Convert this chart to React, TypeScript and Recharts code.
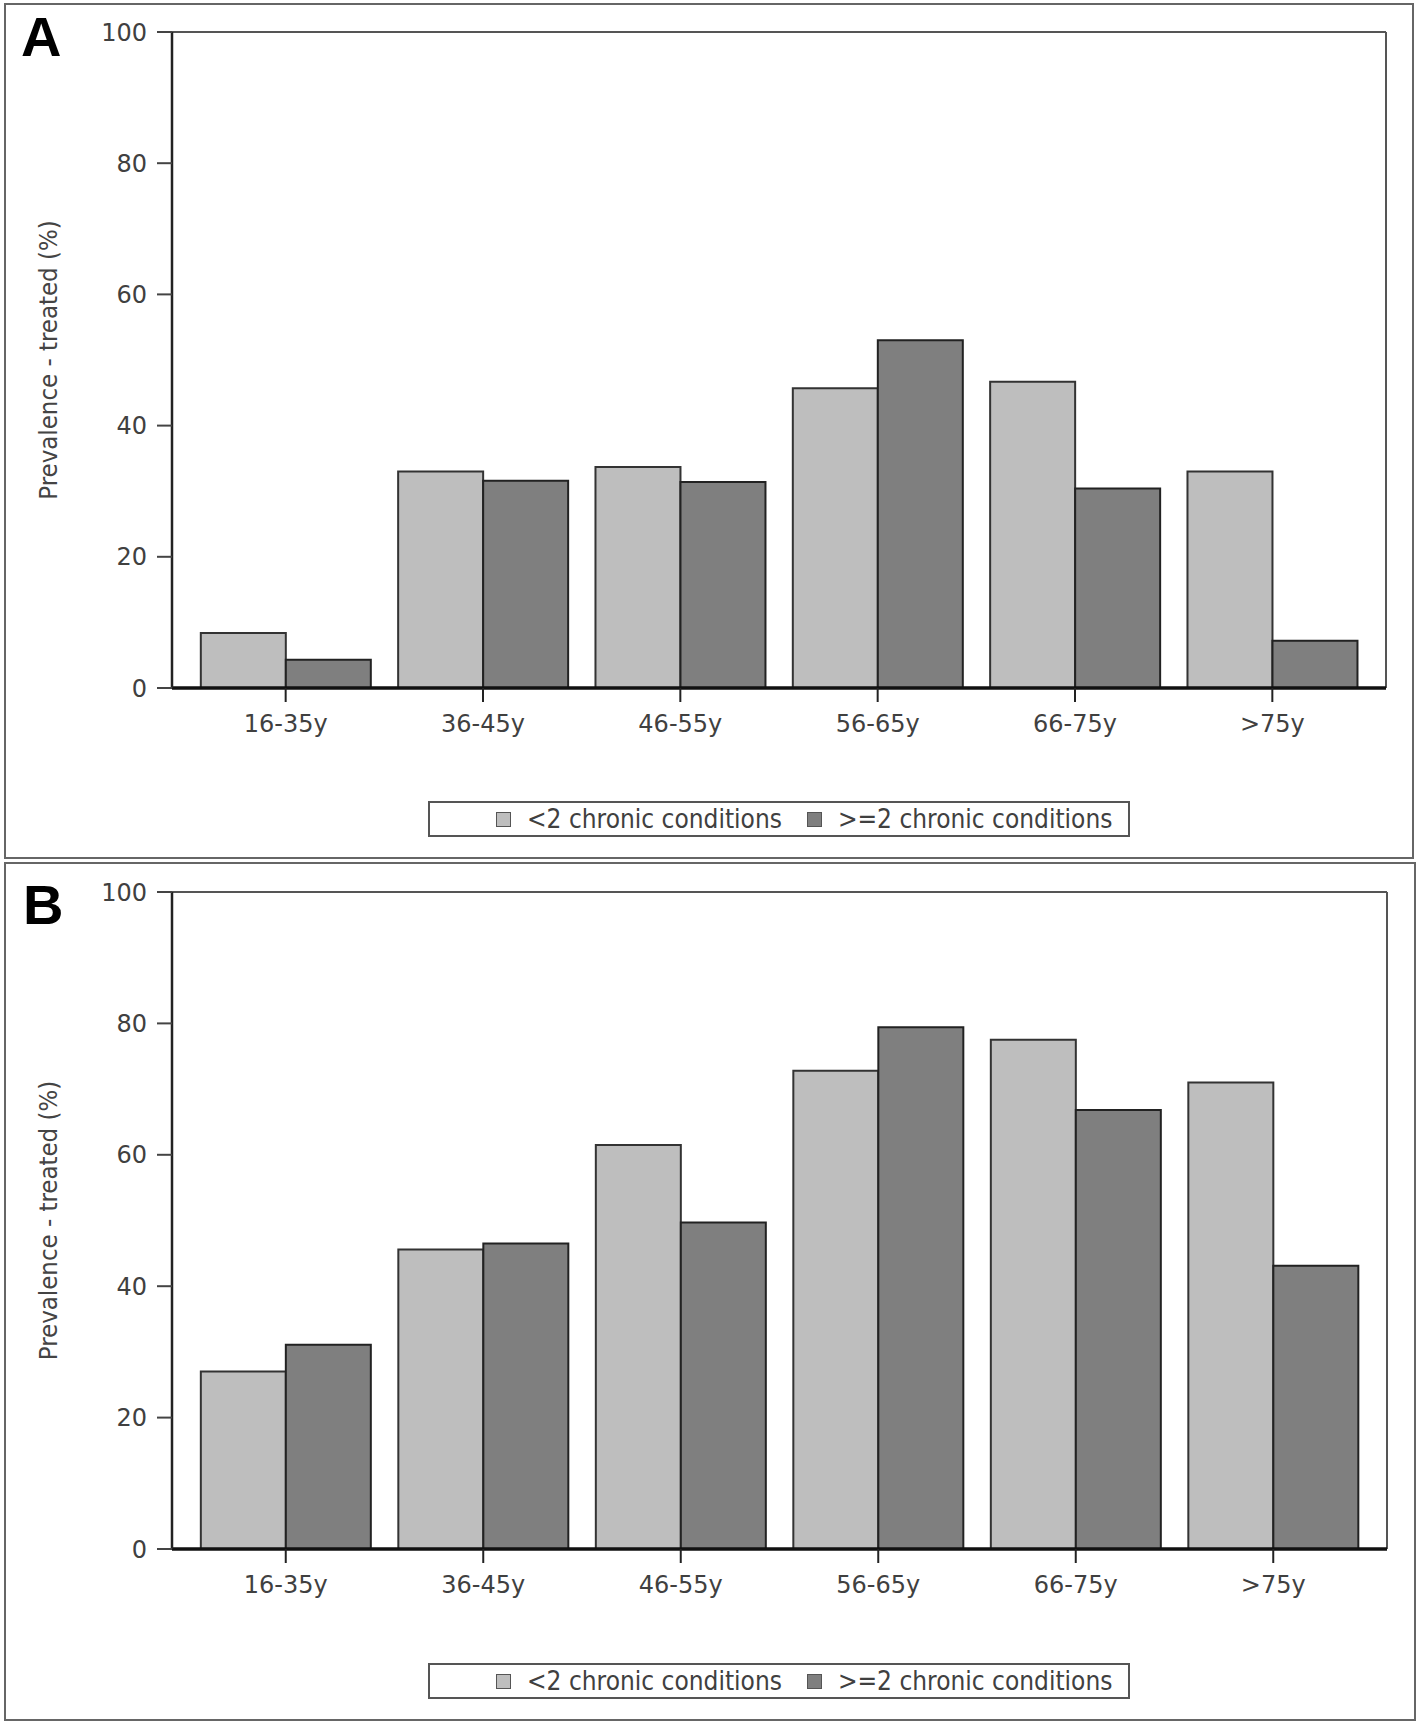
import { Bar, BarChart, XAxis, YAxis, Legend, CartesianGrid } from "recharts"

const ageGroups = ["16-35y", "36-45y", "46-55y", "56-65y", "66-75y", ">75y"]
const panelALow = [8.4, 33.0, 33.7, 45.7, 46.7, 33.0]
const panelAHigh = [4.3, 31.6, 31.4, 53.0, 30.4, 7.2]
const panelBLow = [27.0, 45.6, 61.5, 72.8, 77.5, 71.0]
const panelBHigh = [31.1, 46.5, 49.7, 79.4, 66.8, 43.1]
const yTicks = [0, 20, 40, 60, 80, 100]
const seriesNames = ["<2 chronic conditions", ">=2 chronic conditions"]
const yLabel = "Prevalence - treated (%)"

const LIGHT = "#bebebe"
const DARK = "#7f7f7f"
const tickStyle = { fontFamily: "DejaVu Sans", fontSize: 24, fill: "#404040" }

function LegendContent(props: any) {
  const items = props.payload || []
  return (
    <div
      style={{
        boxSizing: "border-box",
        width: 702,
        height: 36,
        border: "2px solid #555",
        display: "flex",
        alignItems: "center",
        paddingLeft: 66,
        fontFamily: "DejaVu Sans Condensed",
        fontSize: 26,
        color: "#404040",
        background: "#fff",
        whiteSpace: "nowrap",
      }}
    >
      {items.map((it: any, i: number) => (
        <div key={i} style={{ display: "flex", alignItems: "center", marginRight: 25 }}>
          <span
            style={{
              display: "inline-block",
              width: 13,
              height: 13,
              background: it.color,
              border: "1.5px solid #555",
              marginRight: 16,
            }}
          />
          <span>{it.value}</span>
        </div>
      ))}
    </div>
  )
}

function Panel({ low, high, height, bottom, legendTop, right }: any) {
  const data = ageGroups.map((g, i) => ({ group: g, low: low[i], high: high[i] }))
  return (
    <BarChart
      width={1418}
      height={height}
      data={data}
      margin={{ top: 32, right: right, left: 112, bottom: bottom }}
      barCategoryGap="7%"
      barGap={0}
    >
      <CartesianGrid
        stroke="#555"
        strokeWidth={2}
        strokeDasharray=""
        horizontalCoordinatesGenerator={({ offset }: any) => [offset.top]}
        verticalCoordinatesGenerator={({ offset }: any) => [offset.left + offset.width]}
      />
      <XAxis
        dataKey="group"
        padding={{ left: 15, right: 15 }}
        height={60}
        tick={tickStyle}
        tickSize={14}
        tickMargin={13}
        axisLine={{ stroke: "#111", strokeWidth: 3.5 }}
        tickLine={{ stroke: "#222", strokeWidth: 2 }}
        interval={0}
      />
      <YAxis
        domain={[0, 100]}
        ticks={yTicks}
        width={60}
        tick={tickStyle}
        tickSize={15}
        tickMargin={10}
        axisLine={{ stroke: "#222", strokeWidth: 2.5 }}
        tickLine={{ stroke: "#444", strokeWidth: 2 }}
        label={{
          value: yLabel,
          angle: -90,
          position: "insideLeft",
          offset: -64,
          style: { textAnchor: "middle", fontFamily: "DejaVu Sans Condensed", fontSize: 25.5, fill: "#444" },
        }}
      />
      <Legend
        layout="horizontal"
        verticalAlign="middle"
        align="center"
        content={LegendContent}
        wrapperStyle={{ left: 428, top: legendTop, width: 702, height: 36 }}
      />
      <Bar dataKey="low" name={seriesNames[0]} fill={LIGHT} stroke="#333" strokeWidth={2} isAnimationActive={false} />
      <Bar dataKey="high" name={seriesNames[1]} fill={DARK} stroke="#222" strokeWidth={2} isAnimationActive={false} />
    </BarChart>
  )
}

const letterStyle: any = {
  position: "absolute",
  fontFamily: "Liberation Sans",
  fontWeight: "bold",
  fontSize: 56,
  lineHeight: "56px",
  color: "#000",
}

export default function App() {
  return (
    <div style={{ position: "absolute", left: 0, top: 0, width: 1418, height: 1724, background: "#fff" }}>
      <div style={{ position: "absolute", left: 4, top: 3, width: 1406, height: 852, border: "2px solid #666" }} />
      <div style={{ position: "absolute", left: 4, top: 862, width: 1408, height: 855, border: "2px solid #666" }} />
      <div style={{ position: "absolute", left: 0, top: 0 }}>
        <Panel low={panelALow} high={panelAHigh} height={860} bottom={112} legendTop={801} right={32} />
      </div>
      <div style={{ position: "absolute", left: 0, top: 860 }}>
        <Panel low={panelBLow} high={panelBHigh} height={864} bottom={115} legendTop={803} right={31} />
      </div>
      <div style={{ ...letterStyle, left: 21, top: 9 }}>A</div>
      <div style={{ ...letterStyle, left: 23, top: 877 }}>B</div>
    </div>
  )
}
